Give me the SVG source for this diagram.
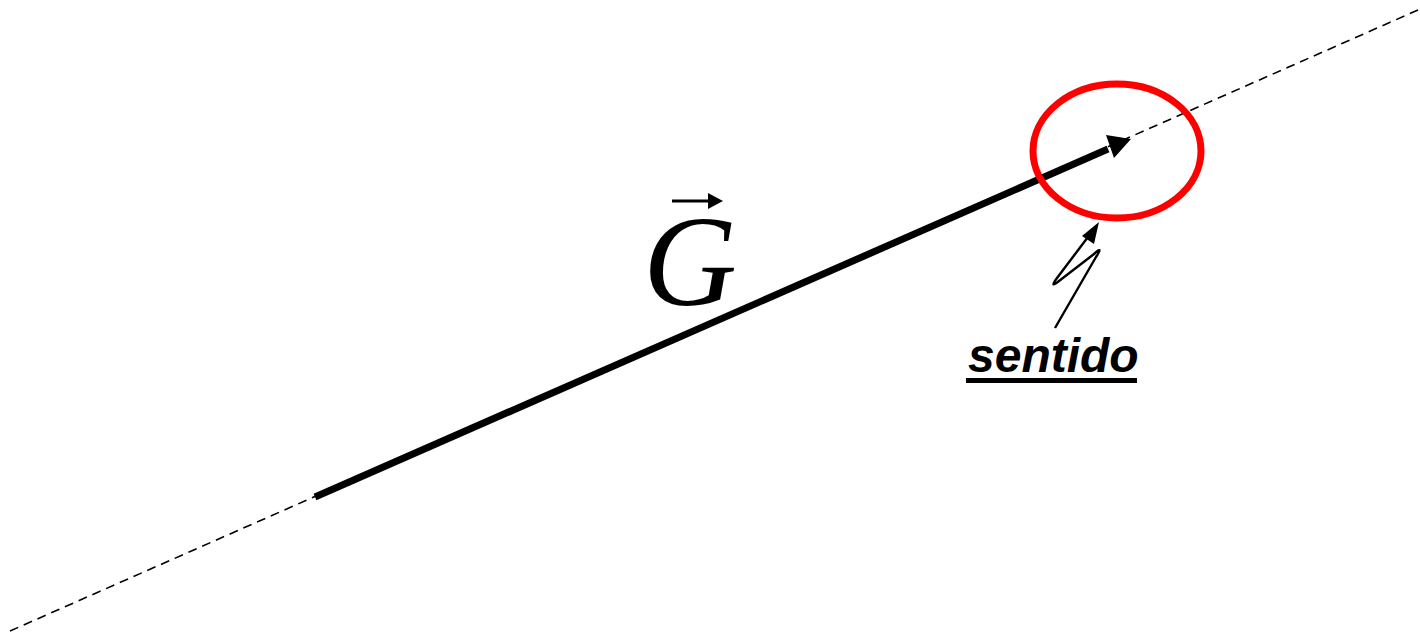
<svg xmlns="http://www.w3.org/2000/svg" width="1420" height="634" viewBox="0 0 1420 634">
<style>
.dash{stroke:#000;stroke-width:1.6;stroke-dasharray:9,6;fill:none}
.vec{stroke:#000;stroke-width:7;fill:none}
.thin{stroke:#000;stroke-width:2.4;fill:none;stroke-linejoin:round}
.lbl{font-family:"Liberation Sans",Arial,sans-serif;font-weight:bold;font-style:italic;font-size:48px}
.g{font-family:"Liberation Serif","Times New Roman",serif;font-style:italic;font-size:130px}
</style>
<g id="connectors">
<line class="dash" x1="10" y1="631" x2="1418" y2="10"/>
<line class="vec" x1="315" y1="497" x2="1108" y2="149"/>
<path d="M1106,135 L1131,139 L1114,158 z" fill="#000"/>
<path class="thin" d="M1055,328 L1096,257 Q1104,245 1094,254 L1059,281 Q1049,289 1057,278 L1088,237"/>
<path d="M1082,236 L1099,222 L1094,244 z" fill="#000"/>
</g>
<g id="ellipse">
<ellipse cx="1117" cy="151" rx="84" ry="67" fill="none" stroke="#ff0000" stroke-width="7"/>
</g>
<g id="vectorG">
<text class="g" x="643" y="305">G</text>
<line x1="672" y1="201" x2="712" y2="201" stroke="#000" stroke-width="3"/>
<path d="M708,193 L723,201 L708,209 z" fill="#000"/>
</g>
<g id="label">
<text class="lbl" x="968" y="372">sentido</text>
<rect x="966" y="378" width="171" height="5" fill="#000"/>
</g>
</svg>
